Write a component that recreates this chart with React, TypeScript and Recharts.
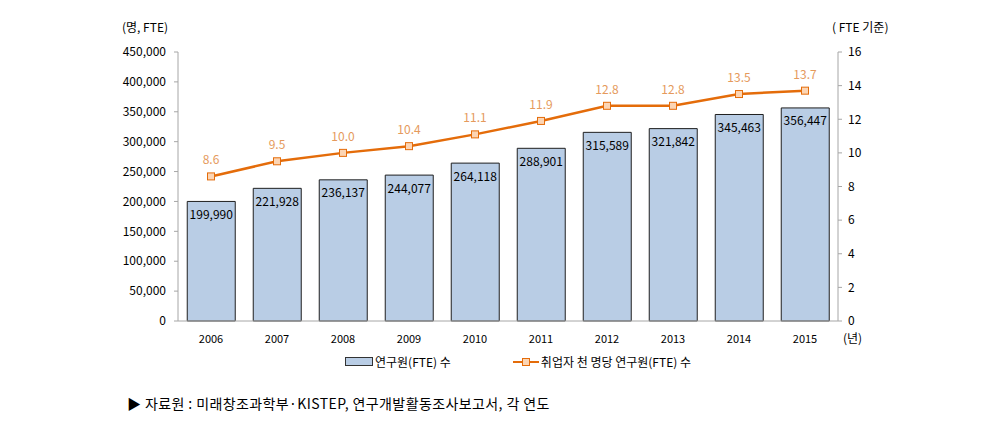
import React from 'react';
import { ComposedChart, Bar, Line, XAxis, YAxis, LabelList } from 'recharts';

const years = ['2006', '2007', '2008', '2009', '2010', '2011', '2012', '2013', '2014', '2015'];
const researchers = [199990, 221928, 236137, 244077, 264118, 288901, 315589, 321842, 345463, 356447];
const perThousand = [8.6, 9.5, 10.0, 10.4, 11.1, 11.9, 12.8, 12.8, 13.5, 13.7];
const leftTicks = [0, 50000, 100000, 150000, 200000, 250000, 300000, 350000, 400000, 450000];
const rightTicks = [0, 2, 4, 6, 8, 10, 12, 14, 16];
const boundaryTicks = [0, 1, 2, 3, 4, 5, 6, 7, 8, 9, 10];

const data = years.map((y, i) => ({ year: y, researchers: researchers[i], perThousand: perThousand[i] }));

const FONT = '"Noto Sans CJK KR", "Noto Sans", sans-serif';
const AXIS = '#a6a6a6';
const ORANGE = '#e46c0a';

const SquareDot = (props: any) => {
  const { cx, cy } = props;
  if (cx == null || cy == null) return null;
  return <rect x={cx - 3.5} y={cy - 3.5} width={7} height={7} fill="#fcd5b4" stroke={ORANGE} strokeWidth={1} />;
};

export default function App() {
  return (
    <div style={{ position: 'absolute', left: 0, top: 0, width: 992, height: 422, background: '#fff', fontFamily: FONT }}>
      <ComposedChart
        width={992}
        height={422}
        data={data}
        margin={{ top: 52, right: 94, bottom: 81, left: 0 }}
        barCategoryGap="14%"
      >
        <XAxis
          xAxisId="grid"
          type="number"
          domain={[0, 10]}
          ticks={boundaryTicks}
          height={0}
          axisLine={false}
          tickLine={{ stroke: AXIS }}
          tickSize={4}
          tickFormatter={() => ''}
        />
        <XAxis
          dataKey="year"
          height={20}
          axisLine={{ stroke: AXIS }}
          tickLine={false}
          tickMargin={8}
          tick={{ fontSize: 11, fill: '#000', fontFamily: FONT }}
        />
        <YAxis
          yAxisId="left"
          width={178}
          domain={[0, 450000]}
          ticks={leftTicks}
          axisLine={{ stroke: AXIS }}
          tickLine={{ stroke: AXIS }}
          tickSize={4}
          tickMargin={8}
          tickFormatter={(v: number) => v.toLocaleString('en-US')}
          tick={{ fontSize: 12, fill: '#000', fontFamily: FONT }}
        />
        <YAxis
          yAxisId="right"
          orientation="right"
          width={60}
          domain={[0, 16]}
          ticks={rightTicks}
          axisLine={{ stroke: AXIS }}
          tickLine={{ stroke: AXIS }}
          tickSize={4}
          tickMargin={6}
          tick={{ fontSize: 12, fill: '#000', fontFamily: FONT }}
        />
        <Bar yAxisId="left" dataKey="researchers" fill="#b9cde5" stroke="#1f1f1f" strokeWidth={1} isAnimationActive={false}>
          <LabelList
            dataKey="researchers"
            position="insideTop"
            offset={9}
            formatter={(v: any) => Number(v).toLocaleString('en-US')}
            style={{ fontSize: 12, fill: '#000', fontFamily: FONT }}
          />
        </Bar>
        <Line
          yAxisId="right"
          dataKey="perThousand"
          stroke={ORANGE}
          strokeWidth={2.5}
          dot={<SquareDot />}
          activeDot={false}
          isAnimationActive={false}
        >
          <LabelList
            dataKey="perThousand"
            position="top"
            offset={12}
            formatter={(v: any) => Number(v).toFixed(1)}
            style={{ fontSize: 12, fill: '#e59a5c', fontFamily: FONT }}
          />
        </Line>
      </ComposedChart>

      <div style={{ position: 'absolute', left: 122, top: 18, fontSize: 12 }}>(명, FTE)</div>
      <div style={{ position: 'absolute', left: 832, top: 18, fontSize: 12 }}>( FTE 기준)</div>
      <div style={{ position: 'absolute', left: 843, top: 329, fontSize: 12 }}>(년)</div>

      <div style={{ position: 'absolute', left: 345, top: 353, fontSize: 12, display: 'flex', alignItems: 'center' }}>
        <span style={{ display: 'inline-block', width: 26, height: 7, background: '#b9cde5', border: '1px solid #333', marginRight: 2 }} />
        <span>연구원(FTE) 수</span>
        <span style={{ position: 'relative', display: 'inline-block', width: 26, height: 10, marginLeft: 62, marginRight: 2 }}>
          <span style={{ position: 'absolute', left: 0, top: 4, width: 26, height: 2, background: ORANGE }} />
          <span style={{ position: 'absolute', left: 9, top: 1, width: 6, height: 6, background: '#fcd5b4', border: `1px solid ${ORANGE}` }} />
        </span>
        <span>취업자 천 명당 연구원(FTE) 수</span>
      </div>

      <div style={{ position: 'absolute', left: 127, top: 393, fontSize: 14, letterSpacing: 0.4 }}>▶ 자료원 : 미래창조과학부·KISTEP, 연구개발활동조사보고서, 각 연도</div>
    </div>
  );
}
